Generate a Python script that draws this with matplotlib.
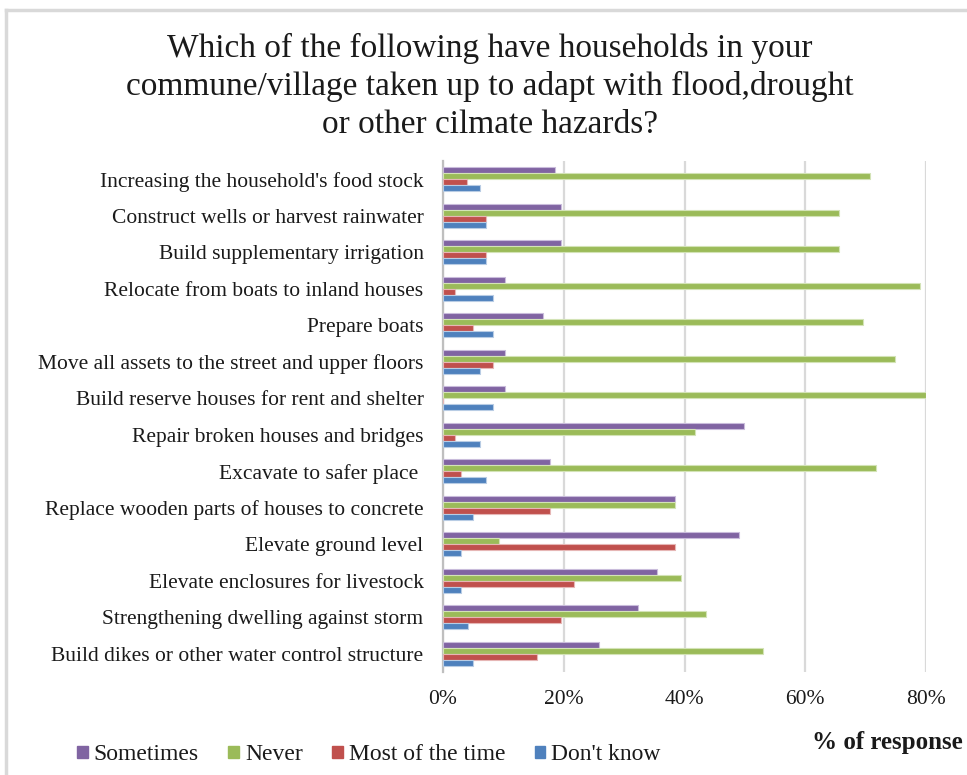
import numpy as np
import matplotlib.pyplot as plt
from matplotlib.patches import Rectangle
from matplotlib.lines import Line2D
from matplotlib.ticker import FuncFormatter

plt.rcParams['font.family'] = ['Liberation Serif', 'DejaVu Serif']

# adaptation measures, top to bottom
measures = [
    "Increasing the household's food stock",
    "Construct wells or harvest rainwater",
    "Build supplementary irrigation",
    "Relocate from boats to inland houses",
    "Prepare boats",
    "Move all assets to the street and upper floors",
    "Build reserve houses for rent and shelter",
    "Repair broken houses and bridges",
    "Excavate to safer place ",
    "Replace wooden parts of houses to concrete",
    "Elevate ground level",
    "Elevate enclosures for livestock",
    "Strengthening dwelling against storm",
    "Build dikes or other water control structure",
]

# % of households per answer
sometimes = [18.6, 19.6, 19.6, 10.2, 16.5, 10.2, 10.2, 49.9, 17.7, 38.4, 49.0, 35.4, 32.3, 25.9]
never = [70.8, 65.6, 65.6, 79.0, 69.6, 74.8, 80.0, 41.7, 71.8, 38.4, 9.2, 39.5, 43.5, 53.0]
most_time = [4.0, 7.1, 7.1, 2.0, 5.0, 8.3, 0.0, 2.0, 2.9, 17.7, 38.4, 21.7, 19.6, 15.6]
dont_know = [6.2, 7.1, 7.1, 8.3, 8.3, 6.2, 8.3, 6.2, 7.1, 5.0, 2.9, 2.9, 4.1, 5.0]

series = [
    ("Sometimes", sometimes, "#8064A2", "#c9bcdb"),
    ("Never", never, "#9BBB59", "#d3e3b6"),
    ("Most of the time", most_time, "#C0504D", "#e6b6b5"),
    ("Don't know", dont_know, "#4F81BD", "#b8cce4"),
]

text_col = "#1a1a1a"
grid_col = "#d9d9d9"

fig = plt.figure(figsize=(9.67, 7.75), dpi=100)
ax = fig.add_axes([443 / 967, 1 - 672 / 775, (926 - 443) / 967, (672 - 161) / 775])

y = np.arange(len(measures))
h = 0.167
for k, (name, vals, col, edge) in enumerate(series):
    ax.barh(y + (k - 1.5) * h, vals, height=h, color=col,
            edgecolor=edge, linewidth=0.8, label=name, zorder=3)

ax.set_xlim(0, 80)
ax.set_ylim(len(measures) - 0.5, -0.5)
ax.set_xticks([0, 20, 40, 60, 80])
ax.xaxis.set_major_formatter(FuncFormatter(lambda v, p: f"{v:.0f}%"))
ax.set_yticks(y)
ax.set_yticklabels(measures)
ax.tick_params(axis='both', length=0, labelsize=15.5, colors=text_col)
ax.tick_params(axis='x', pad=13)
ax.tick_params(axis='y', pad=14)
ax.grid(axis='x', color=grid_col, linewidth=1.6, zorder=0)
for s in ['top', 'right', 'bottom']:
    ax.spines[s].set_visible(False)
ax.spines['left'].set_color('#bfbfbf')
ax.spines['left'].set_linewidth(1.6)

fig.text(490 / 967, 1 - 33 / 775,
         "Which of the following have households in your\n"
         "commune/village taken up to adapt with flood,drought\n"
         "or other cilmate hazards?",
         ha='center', va='top', fontsize=24, color=text_col, linespacing=1.3)

fig.text(963 / 967, 1 - 742 / 775, "% of response", ha='right', va='center',
         fontsize=18, fontweight='bold', color=text_col)

handles = [Rectangle((0, 0), 1, 1, color=c) for _, _, c, _ in series]
fig.legend(handles, [s[0] for s in series], loc='center left',
           bbox_to_anchor=(56 / 967, 1 - 755 / 775), ncol=4, frameon=False,
           fontsize=17, handlelength=0.45, handleheight=0.45,
           handletextpad=0.25, columnspacing=1.25, labelcolor=text_col)

# light frame around the chart area
fig.add_artist(Line2D([6 / 967, 6 / 967], [0, 1 - 10 / 775], color=grid_col,
                      linewidth=2.5, transform=fig.transFigure))
fig.add_artist(Line2D([6 / 967, 1], [1 - 10 / 775, 1 - 10 / 775], color=grid_col,
                      linewidth=2.5, transform=fig.transFigure))

fig.savefig("out.png", dpi=100)
